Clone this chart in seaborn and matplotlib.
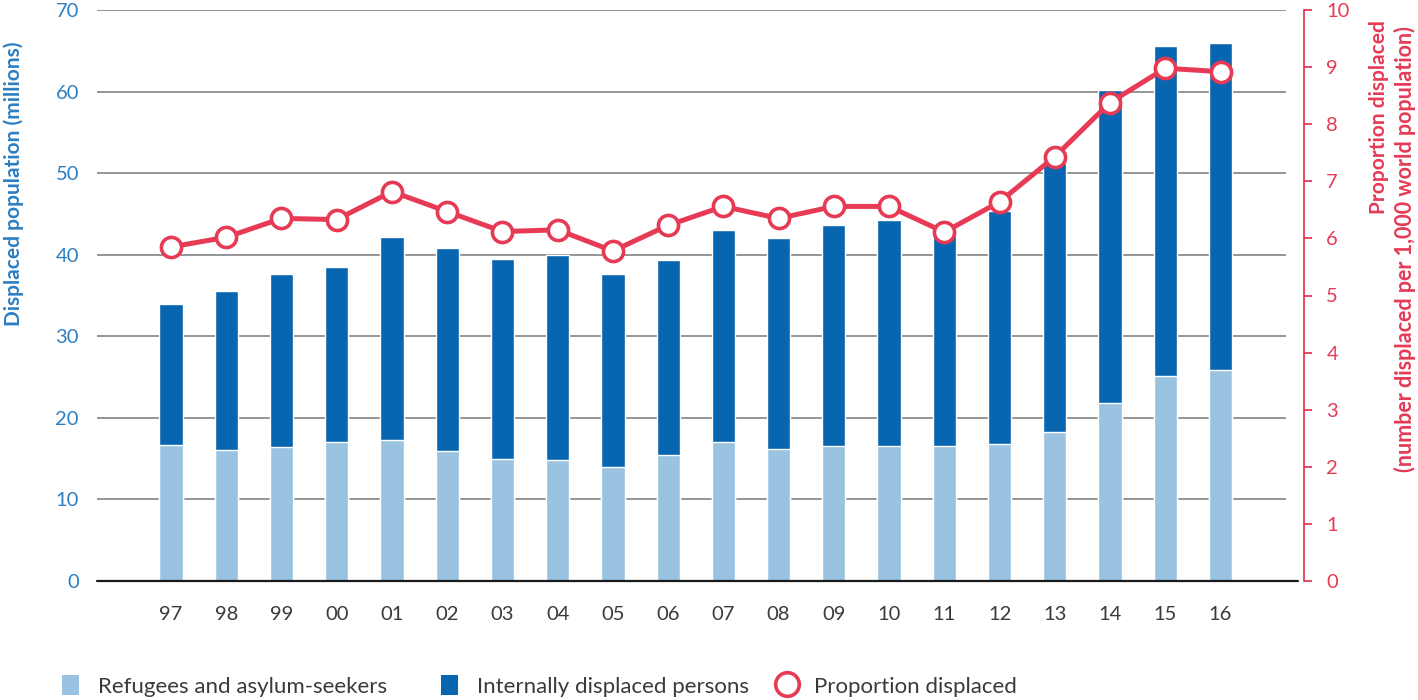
import numpy as np
import pandas as pd
import matplotlib
matplotlib.use("Agg")
import matplotlib.pyplot as plt
import seaborn as sns
from matplotlib.patches import Patch
from matplotlib.lines import Line2D

sns.set_theme(style="white")
plt.rcParams['font.family'] = ['Lato', 'DejaVu Sans']

# --- data ---
years = ["97", "98", "99", "00", "01", "02", "03", "04", "05", "06",
         "07", "08", "09", "10", "11", "12", "13", "14", "15", "16"]
total_displaced = [34.0, 35.5, 37.6, 38.5, 42.2, 40.8, 39.5, 40.0, 37.6, 39.4,
                   43.0, 42.1, 43.6, 44.3, 42.6, 45.4, 51.2, 60.2, 65.6, 66.0]
refugees = [16.7, 16.1, 16.4, 17.1, 17.3, 15.9, 14.9, 14.8, 14.0, 15.5,
            17.0, 16.2, 16.6, 16.6, 16.5, 16.8, 18.3, 21.8, 25.1, 25.9]
proportion = [5.85, 6.02, 6.35, 6.33, 6.82, 6.47, 6.12, 6.15, 5.78, 6.23,
              6.56, 6.35, 6.56, 6.56, 6.11, 6.64, 7.43, 8.38, 8.98, 8.92]
legend_labels = ["Refugees and asylum-seekers", "Internally displaced persons",
                 "Proportion displaced"]

df = pd.DataFrame({"year": years, "total": total_displaced,
                   "refugees": refugees, "proportion": proportion})

light_blue = "#9ac3e2"
dark_blue = "#0866b0"
red = "#e63a55"
left_col = "#2c7fc3"
text_col = "#3a3a3a"

fig = plt.figure(figsize=(14.18, 7.0), dpi=100)
ax = fig.add_axes([97 / 1418, 1 - 581 / 700, (1286 - 97) / 1418, (581 - 10) / 700])

# stacked bars: total in dark blue, refugees drawn over it in light blue
sns.barplot(data=df, x="year", y="total", order=years, color=dark_blue,
            width=0.42, saturation=1, ax=ax, zorder=2)
sns.barplot(data=df, x="year", y="refugees", order=years, color=light_blue,
            width=0.42, saturation=1, ax=ax, zorder=3)

ax.set_ylim(0, 70)
ax.set_yticks(np.arange(0, 71, 10))
ax.yaxis.grid(True, color="#8c8c8c", linewidth=1.3)
ax.set_axisbelow(True)
for s in ["left", "top", "right", "bottom"]:
    ax.spines[s].set_visible(False)
ax.axhline(0, xmin=0, xmax=1.01, color="#1a1a1a", linewidth=1.6,
           clip_on=False, zorder=5)
ax.tick_params(axis="y", length=0, pad=13, labelsize=14.5, labelcolor=left_col)
ax.tick_params(axis="x", length=0, pad=18, labelsize=14.5, labelcolor=text_col)
ax.set_xlabel("")
ax.set_ylabel("")

# proportion line on the right axis
ax2 = ax.twinx()
sns.pointplot(data=df, x="year", y="proportion", order=years, color=red,
              markers="o", linewidth=3.6, markersize=14.5, markerfacecolor="white",
              markeredgewidth=2.6, ax=ax2)
ax2.set_ylim(0, 10)
ax2.set_yticks(np.arange(0, 11, 1))
for s in ["left", "top", "bottom"]:
    ax2.spines[s].set_visible(False)
ax2.spines["right"].set_position(("outward", 13))
ax2.spines["right"].set_color(red)
ax2.spines["right"].set_linewidth(1.3)
ax2.tick_params(axis="y", direction="out", length=6, width=1.3, color=red,
                labelcolor=red, labelsize=14.5, pad=10)
ax2.grid(False)
ax2.set_xlabel("")
ax2.set_ylabel("")

xmin, xmax = -1.34, 19 + (1286 - 1220.5) / 55.24
ax.set_xlim(xmin, xmax)
ax2.set_xlim(xmin, xmax)

# axis titles
fig.text(14 / 1418, 1 - 326 / 700, "Displaced population (millions)", rotation=90,
         ha="center", va="bottom", color=left_col, fontsize=15, fontweight="bold")
fig.text(1379 / 1418, 1 - 214 / 700, "Proportion displaced", rotation=90,
         ha="center", va="bottom", color=red, fontsize=15, fontweight="bold")
fig.text(1405 / 1418, 1 - 472 / 700, "(number displaced per 1,000 world population)",
         rotation=90, ha="center", va="bottom", color=red, fontsize=15.5, fontweight="bold")

# legend: one entry per block so each sits where the reference puts it
handles = [Patch(facecolor=light_blue, edgecolor="none"),
           Patch(facecolor=dark_blue, edgecolor="none"),
           Line2D([], [], linestyle="none", marker="o", markersize=17,
                  markerfacecolor="white", markeredgecolor=red, markeredgewidth=2.6)]
starts = [62, 441, 778]
for h, lab, x0 in zip(handles, legend_labels, starts):
    leg = fig.legend([h], [lab], loc="center left", bbox_to_anchor=(x0 / 1418, 1 - 686 / 700),
                     frameon=False, fontsize=16, handlelength=0.77, handleheight=1.0,
                     handletextpad=0.85, borderaxespad=0, borderpad=0)
    for t in leg.get_texts():
        t.set_color(text_col)

fig.savefig("out.png", dpi=100)
